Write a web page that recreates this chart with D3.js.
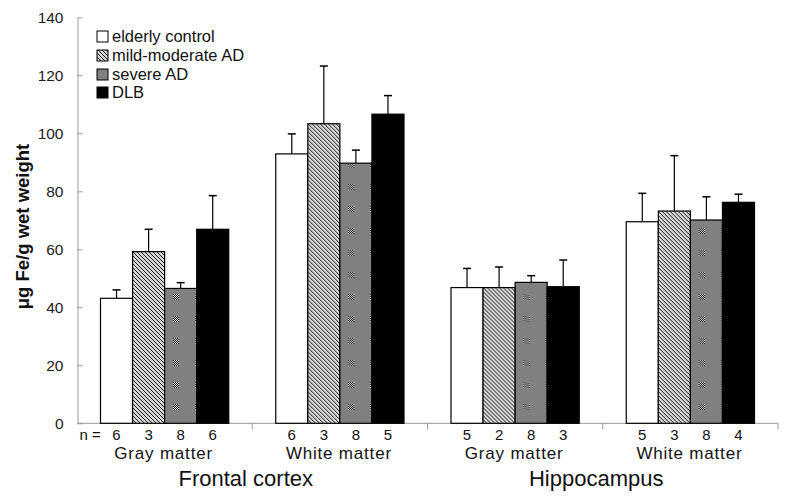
<!DOCTYPE html>
<html><head><meta charset="utf-8">
<script src="https://cdn.jsdelivr.net/npm/d3@7"></script>
<style>body{margin:0;background:#fff}svg{display:block}text{font-family:"Liberation Sans",Arial,sans-serif}</style>
</head><body><svg id="c" width="800" height="500"></svg>
<script>
const regions = ["Frontal cortex", "Hippocampus"];
const tissues = ["Gray matter", "White matter", "Gray matter", "White matter"];
const groupIds = ["FC-G", "FC-W", "HC-G", "HC-W"];
const series = ["elderly control", "mild-moderate AD", "severe AD", "DLB"];
const means = [
  [43.1, 59.2, 46.5, 66.9],
  [92.9, 103.3, 89.7, 106.6],
  [46.8, 46.8, 48.6, 47.1],
  [69.5, 73.2, 70.1, 76.2]
];
const errTops = [
  [46.0, 66.9, 48.5, 78.5],
  [99.8, 123.2, 94.2, 113.0],
  [53.4, 53.9, 50.9, 56.3],
  [79.3, 92.3, 78.1, 79.0]
];
const nCounts = [
  [6, 3, 8, 6],
  [6, 3, 8, 5],
  [5, 2, 8, 3],
  [5, 3, 8, 4]
];
const yTicks = [0, 20, 40, 60, 80, 100, 120, 140];

const svg = d3.select("#c");
const defs = svg.append("defs");
// hatched pattern
const ph = defs.append("pattern").attr("id","hatch").attr("patternUnits","userSpaceOnUse")
  .attr("width",4).attr("height",4);
ph.append("rect").attr("width",4).attr("height",4).attr("fill","#d4d4d4");
ph.append("path").attr("d","M-1,-1 L5,5 M-1,3 L1,5 M3,-1 L5,1").attr("stroke","#222").attr("stroke-width",1);
// gray pattern with checker patches
const pg = defs.append("pattern").attr("id","grayp").attr("patternUnits","userSpaceOnUse")
  .attr("width",22).attr("height",22);
pg.append("rect").attr("width",22).attr("height",22).attr("fill","#808080");
for(let i=0;i<6;i++)for(let j=0;j<6;j++){
  pg.append("rect").attr("x",8+i).attr("y",8+j).attr("width",1).attr("height",1)
    .attr("fill",(i+j)%2===0?"#333":"#b8b8b8");
}

const fills = ["#ffffff","url(#hatch)","url(#grayp)","#000000"];
const legendFills = ["#ffffff","url(#hatch)","#808080","#000000"];

const x0 = d3.scaleBand().domain(groupIds).range([77, 778]).paddingInner(0).paddingOuter(0);
const x1 = d3.scaleBand().domain(series).range([23.5, x0.bandwidth()-23.5]);
const y = d3.scaleLinear().domain([0,140]).range([423.3, 17.3]);

// y axis
const yAxis = d3.axisLeft(y).tickValues(yTicks).tickSize(-5).tickSizeOuter(0).tickPadding(14);
const ga = svg.append("g").attr("transform","translate(77.5,0)").call(yAxis);
ga.selectAll("path,line").attr("stroke","#999");
ga.selectAll("text").attr("font-size",15.5).attr("fill","#222");

// x axis line with ticks at band boundaries
const gx = svg.append("g");
gx.append("line").attr("x1",77).attr("x2",778).attr("y1",y(0)).attr("y2",y(0)).attr("stroke","#999");
groupIds.forEach(g=>{
  const xe = x0(g)+x0.bandwidth();
  gx.append("line").attr("x1",xe).attr("x2",xe).attr("y1",y(0)).attr("y2",y(0)+6).attr("stroke","#999");
});

// bars
const groups = svg.append("g").selectAll("g").data(groupIds).join("g")
  .attr("transform", d=>`translate(${x0(d)},0)`);
groups.each(function(gid, gi){
  const g = d3.select(this);
  series.forEach((s, si)=>{
    const v = means[gi][si], e = errTops[gi][si];
    const cx = x1(s) + x1.bandwidth()/2;
    g.append("line").attr("x1",cx).attr("x2",cx).attr("y1",y(v)).attr("y2",y(e)).attr("stroke","#000").attr("stroke-width",1.2);
    g.append("line").attr("x1",cx-4).attr("x2",cx+4).attr("y1",y(e)).attr("y2",y(e)).attr("stroke","#000").attr("stroke-width",1.5);
    g.append("rect").attr("x",x1(s)).attr("width",x1.bandwidth()).attr("y",y(v)).attr("height",y(0)-y(v))
      .attr("fill",fills[si]).attr("stroke","#000").attr("stroke-width",1.2);
    g.append("text").attr("x",cx).attr("y",439.5).attr("text-anchor","middle").attr("font-size",15).attr("fill","#111").text(nCounts[gi][si]);
  });
  g.append("text").attr("x",x0.bandwidth()/2 - 1).attr("y",458.5).attr("text-anchor","middle").attr("font-size",17)
    .attr("letter-spacing","0.8px").attr("fill","#111").text(tissues[gi]);
});
svg.append("text").attr("x",79.5).attr("y",439.5).attr("font-size",15).attr("fill","#111").text("n =");

// region labels
regions.forEach((r,i)=>{
  const cx = x0(groupIds[2*i]) + x0.bandwidth() - 6.5;
  svg.append("text").attr("x",cx).attr("y",486).attr("text-anchor","middle").attr("font-size",22).attr("fill","#111").text(r);
});

// y label
svg.append("text").attr("transform","translate(29,226.5) rotate(-90)").attr("text-anchor","middle")
  .attr("font-size",18.5).attr("font-weight","bold").attr("fill","#111").text("μg Fe/g wet weight");

// legend
const leg = svg.append("g");
series.forEach((s,i)=>{
  const yy = [36,55,74,92][i];
  leg.append("rect").attr("x",97).attr("y",yy-5).attr("width",11).attr("height",11)
    .attr("fill",legendFills[i]).attr("stroke","#000").attr("stroke-width",1);
  leg.append("text").attr("x",112).attr("y",yy+5.8).attr("font-size",16.5).attr("fill","#111").text(s);
});
</script></body></html>
